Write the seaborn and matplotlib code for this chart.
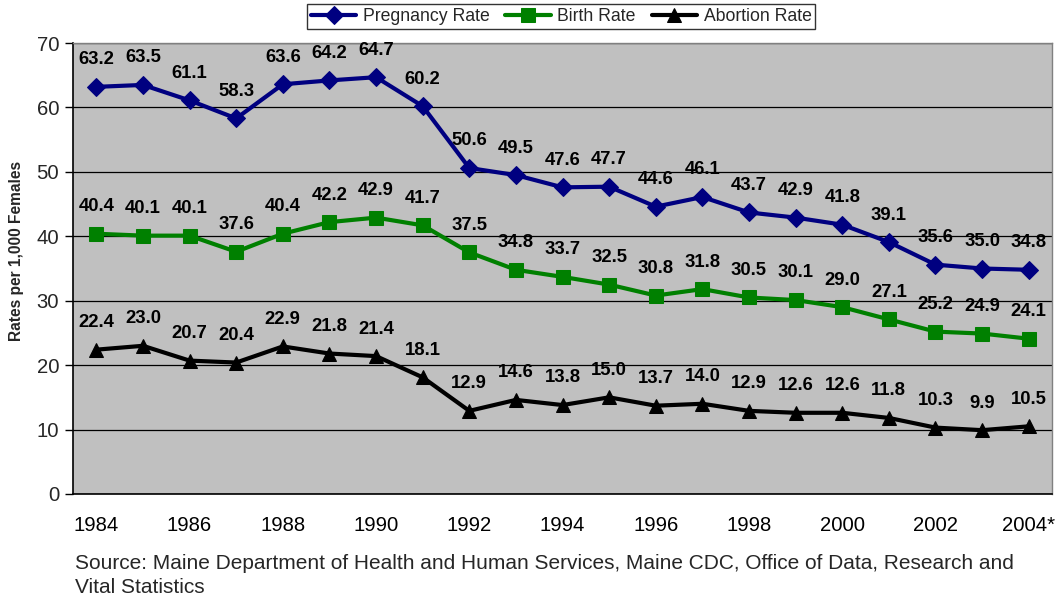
import numpy as np
import pandas as pd
import matplotlib
matplotlib.use("Agg")
import matplotlib.pyplot as plt
import seaborn as sns

years = [str(y) for y in range(1984, 2005)]
year_labels = ["1984", "1986", "1988", "1990", "1992", "1994", "1996", "1998", "2000", "2002", "2004*"]
pregnancy = [63.2, 63.5, 61.1, 58.3, 63.6, 64.2, 64.7, 60.2, 50.6, 49.5, 47.6, 47.7, 44.6, 46.1, 43.7, 42.9, 41.8, 39.1, 35.6, 35.0, 34.8]
birth = [40.4, 40.1, 40.1, 37.6, 40.4, 42.2, 42.9, 41.7, 37.5, 34.8, 33.7, 32.5, 30.8, 31.8, 30.5, 30.1, 29.0, 27.1, 25.2, 24.9, 24.1]
abortion = [22.4, 23.0, 20.7, 20.4, 22.9, 21.8, 21.4, 18.1, 12.9, 14.6, 13.8, 15.0, 13.7, 14.0, 12.9, 12.6, 12.6, 11.8, 10.3, 9.9, 10.5]
series_names = ["Pregnancy Rate", "Birth Rate", "Abortion Rate"]

sns.set_theme(style="white")
plt.rcParams['font.family'] = ['Liberation Sans', 'DejaVu Sans']

rows = []
for name, vals in zip(series_names, [pregnancy, birth, abortion]):
    for i, v in enumerate(vals):
        rows.append({"idx": i, "year": years[i], "value": v, "series": name})
df = pd.DataFrame(rows)

palette = {"Pregnancy Rate": "#000080", "Birth Rate": "#008000", "Abortion Rate": "#000000"}
markers = {"Pregnancy Rate": "D", "Birth Rate": "s", "Abortion Rate": "^"}
msizes = {"Pregnancy Rate": 9, "Birth Rate": 10, "Abortion Rate": 10}

fig = plt.figure(figsize=(10.55, 5.98), dpi=100)
ax = fig.add_axes([0.0692, 0.174, 0.928, 0.754])
ax.set_facecolor("#C0C0C0")

for name in series_names:
    sub = df[df.series == name]
    sns.lineplot(data=sub, x="idx", y="value", color=palette[name], marker=markers[name],
                 markersize=msizes[name], markeredgecolor=palette[name], linewidth=3,
                 ax=ax, label=name, legend=False)
    for _, r in sub.iterrows():
        ax.annotate(f"{r.value:.1f}", (r.idx, r.value), xytext=(0, 19.5), textcoords="offset points",
                    ha="center", va="center", fontsize=13.3, fontweight="bold", color="black")

ax.set_ylim(0, 70)
ax.set_xlim(-0.5, 20.5)
ax.set_yticks(np.arange(0, 71, 10))
ax.yaxis.grid(True, color="black", linewidth=0.9)
ax.set_axisbelow(True)
ax.set_xticks(np.arange(0, 21, 2))
ax.set_xticklabels(year_labels)
ax.set_xticks(np.arange(-0.5, 21, 1), minor=True)
ax.tick_params(axis="x", which="major", length=0, pad=16, labelsize=14.6, colors="black")
ax.tick_params(axis="x", which="minor", length=6, width=1, direction="out", color="black")
ax.tick_params(axis="y", which="major", length=6, width=1, direction="out", labelsize=14.6, color="black", pad=4)
ax.tick_params(axis="both", bottom=True, left=True)
ax.set_xlabel("")
ax.set_ylabel("")
fig.text(17 / 1055, 1 - 251 / 598, "Rates per 1,000 Females", rotation=90, fontsize=11.2,
         fontweight="bold", ha="center", va="center")
for s in ["left", "bottom"]:
    ax.spines[s].set_color("black")
    ax.spines[s].set_linewidth(1.2)
for s in ["top", "right"]:
    ax.spines[s].set_color("#808080")
    ax.spines[s].set_linewidth(1)

handles, labels = ax.get_legend_handles_labels()
leg = fig.legend(handles, labels, loc="center", bbox_to_anchor=(561 / 1055, 1 - 16.5 / 598), ncol=3, frameon=True,
                 fontsize=12.7, fancybox=False, edgecolor="black", borderpad=0.2, handlelength=2.6,
                 columnspacing=0.9, handletextpad=0.35)
leg.get_frame().set_linewidth(1)

fig.text(75 / 1055, 1 - 575.5 / 598, "Source: Maine Department of Health and Human Services, Maine CDC, Office of Data, Research and\nVital Statistics",
         fontsize=15, ha="left", va="center", linespacing=1.3)

fig.savefig("out.png", dpi=100)
